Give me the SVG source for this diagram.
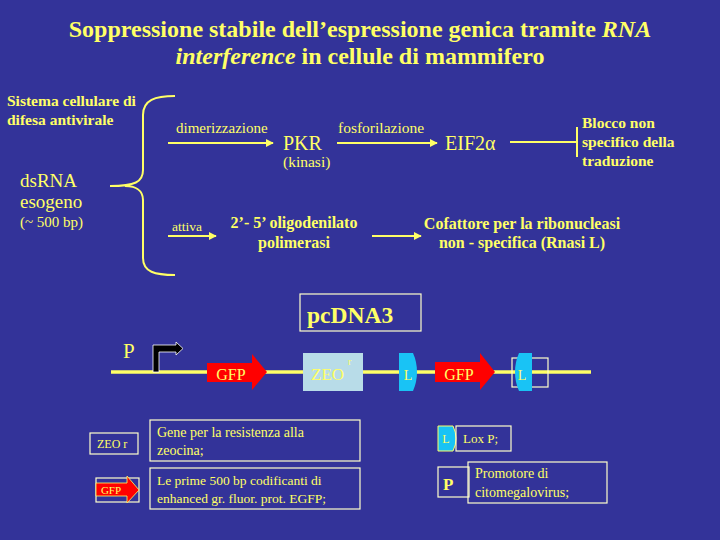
<svg xmlns="http://www.w3.org/2000/svg" width="720" height="540" viewBox="0 0 720 540">
<defs>
<style>
.t{font-family:"Liberation Serif","Times New Roman",serif;fill:#ffff66}
.b{font-weight:bold}
.i{font-style:italic}
.ln{stroke:#ffff66;stroke-width:2;fill:none}
.box{fill:none;stroke:#ffffcc;stroke-width:1.2}
.cy{fill:#19c3f5}
.red{fill:#ff0000}
</style>
<marker id="ah" viewBox="0 0 10 10" refX="9" refY="5" markerWidth="4" markerHeight="4" orient="auto" markerUnits="strokeWidth">
<path d="M0,0 L10,5 L0,10 z" fill="#ffff66"/>
</marker>
</defs>
<rect width="720" height="540" fill="#333399"/>

<g id="title">
<text class="t b" x="360" y="37" font-size="24" text-anchor="middle">Soppressione stabile dell’espressione genica tramite <tspan class="i">RNA</tspan></text>
<text class="t b" x="360" y="64" font-size="24" text-anchor="middle"><tspan class="i">interference</tspan>  in cellule di mammifero</text>
</g>

<g id="sistema">
<text class="t b" x="7" y="106" font-size="15.5">Sistema cellulare di</text>
<text class="t b" x="7" y="125" font-size="15.5">difesa antivirale</text>
</g>

<g id="dsrna">
<text class="t" x="20" y="187" font-size="19">dsRNA</text>
<text class="t" x="20" y="208" font-size="19">esogeno</text>
<text class="t" x="20" y="227" font-size="15">(~ 500 bp)</text>
</g>

<g id="brace">
<path class="ln" stroke-width="1.5" d="M175,96 C155,96 143,100 143,115 L143,170 C143,182 135,186 110,186 M143,200 C143,190 135,186 125,186 M143,200 L143,258 C143,272 155,275 175,275"/>
</g>

<g id="pkr">
<text class="t" x="283" y="150" font-size="20">PKR</text>
<text class="t" x="283" y="167" font-size="15.5">(kinasi)</text>
</g>

<g id="eif">
<text class="t" x="445" y="150" font-size="20">EIF2α</text>
</g>

<g id="blocco">
<text class="t b" x="582" y="128" font-size="15.5">Blocco non</text>
<text class="t b" x="582" y="147" font-size="15.5">specifico della</text>
<text class="t b" x="582" y="166" font-size="15.5">traduzione</text>
</g>

<g id="oligo">
<text class="t b" x="294" y="228" font-size="16" text-anchor="middle">2’- 5’ oligodenilato</text>
<text class="t b" x="294" y="248" font-size="16" text-anchor="middle">polimerasi</text>
</g>

<g id="cofattore">
<text class="t b" x="522" y="229" font-size="16" text-anchor="middle">Cofattore per la ribonucleasi</text>
<text class="t b" x="522" y="248" font-size="16" text-anchor="middle">non - specifica (Rnasi L)</text>
</g>

<g id="connectors">
<line class="ln" x1="168" y1="143" x2="273" y2="143" marker-end="url(#ah)"/>
<text class="t" x="176" y="133" font-size="15">dimerizzazione</text>
<line class="ln" x1="337" y1="143" x2="437" y2="143" marker-end="url(#ah)"/>
<text class="t" x="338" y="133" font-size="15.5">fosforilazione</text>
<line class="ln" x1="510" y1="142" x2="577" y2="142" stroke-width="1"/>
<line class="ln" x1="577" y1="127" x2="577" y2="157" stroke-width="1.2"/>
<line class="ln" x1="168" y1="236" x2="216" y2="236" marker-end="url(#ah)"/>
<text class="t" x="172" y="231" font-size="13.5">attiva</text>
<line class="ln" x1="372" y1="236" x2="421" y2="236" marker-end="url(#ah)"/>
</g>

<g id="pcdna3">
<rect class="box" x="300" y="294" width="121" height="37"/>
<text class="t b" x="307" y="323" font-size="23.5">pcDNA3</text>
</g>

<g id="construct">
<line x1="111" y1="372" x2="591" y2="372" stroke="#ffff66" stroke-width="3.5"/>
<text class="t" x="123" y="358" font-size="21">P</text>
<path d="M153,372 L153,345 L176,345 L176,342 L183,348.5 L176,355 L176,352 L159,352 L159,372 z" fill="#000" stroke="#fff" stroke-width="0.8"/>
<path class="red" d="M207,363 L252,363 L252,354 L267,372 L252,390 L252,382 L207,382 z"/>
<text class="t" x="231" y="380" font-size="16" text-anchor="middle">GFP</text>
<rect x="303" y="353" width="60" height="38" fill="#b8dce8"/>
<text class="t" x="311" y="380" font-size="17" fill="#eeee66">ZEO</text>
<text class="t" x="348" y="365" font-size="10">r</text>
<path class="cy" d="M399,353 L413,353 Q417,362 417,372 Q417,382 413,391 L399,391 z"/>
<text class="t" x="408" y="380" font-size="14" text-anchor="middle">L</text>
<path class="red" d="M435,362 L480,362 L480,353 L495,372 L480,390 L480,382 L435,382 z"/>
<text class="t" x="459" y="380" font-size="16" text-anchor="middle">GFP</text>
<rect class="box" x="512" y="358" width="36" height="29"/>
<path class="cy" d="M532,353 L519,353 Q515,362 515,372 Q515,382 519,391 L532,391 z"/>
<text class="t" x="522" y="380" font-size="14" text-anchor="middle">L</text>
</g>

<g id="legend-zeo">
<rect class="box" x="90" y="433" width="48" height="21"/>
<text class="t" x="97" y="448" font-size="12">ZEO r</text>
<rect class="box" x="150" y="420" width="210" height="41"/>
<text class="t" x="157" y="437" font-size="14">Gene per la resistenza alla</text>
<text class="t" x="157" y="455" font-size="14">zeocina;</text>
</g>

<g id="legend-gfp">
<rect class="box" x="96" y="478" width="43" height="24"/>
<path class="red" d="M96,483 L127,483 L127,476 L139,490 L127,503 L127,496 L96,496 z" stroke="#ffff66" stroke-width="0.8"/>
<text class="t" x="111" y="494" font-size="11" text-anchor="middle">GFP</text>
<rect class="box" x="150" y="468" width="210" height="41"/>
<text class="t" x="157" y="485" font-size="13.5">Le prime 500 bp codificanti di</text>
<text class="t" x="157" y="503" font-size="13.5">enhanced gr. fluor. prot. EGFP;</text>
</g>

<g id="legend-l">
<path class="cy" d="M438,426 L453,426 Q456,432 456,438.5 Q456,445 453,451 L438,451 z" stroke="#ffff66" stroke-width="1"/>
<text class="t" x="446" y="443" font-size="12" text-anchor="middle">L</text>
<rect class="box" x="456" y="426" width="55" height="25"/>
<text class="t" x="463" y="443" font-size="13">Lox P;</text>
</g>

<g id="legend-p">
<rect class="box" x="438" y="467" width="31" height="30"/>
<text class="t b" x="443" y="490" font-size="17">P</text>
<rect class="box" x="468" y="462" width="139" height="41" fill="#333399"/>
<text class="t" x="475" y="478" font-size="14">Promotore di</text>
<text class="t" x="475" y="497" font-size="14">citomegalovirus;</text>
</g>
</svg>
